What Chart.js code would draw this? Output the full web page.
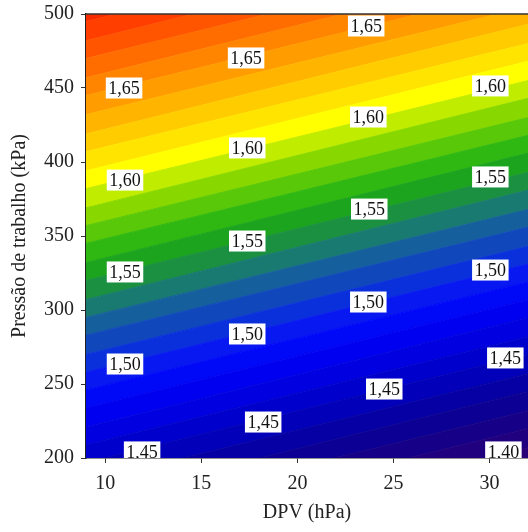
<!DOCTYPE html>
<html>
<head>
<meta charset="utf-8">
<script src="https://cdn.jsdelivr.net/npm/chart.js@4.4.1/dist/chart.umd.min.js"></script>
<style>
  html, body { margin: 0; padding: 0; background: #fff; }
  #grafico { display: block; }
</style>
</head>
<body>
<canvas id="grafico" width="528" height="532"></canvas>
<script>
// --- Datos ---
// Niveles de contorno (densidad) y presión de cada línea en DPV = 9 y DPV = 32
const niveles = [1.38, 1.39, 1.40, 1.41, 1.42, 1.43, 1.44, 1.45, 1.46, 1.47, 1.48, 1.49,
  1.50, 1.51, 1.52, 1.53, 1.54, 1.55, 1.56, 1.57, 1.58, 1.59, 1.60, 1.61, 1.62, 1.63,
  1.64, 1.65, 1.66, 1.67, 1.68, 1.69, 1.70, 1.71, 1.72];
const presionIzq = [109, 121, 134, 146, 159, 171, 184, 197, 209, 221, 234, 246,
  258, 270, 283, 295, 307, 320, 332, 345, 357, 369, 382, 394, 407, 419,
  432, 445, 457, 470, 482, 495, 507, 520, 532];
const presionDer = [182, 195, 207, 220, 232, 245, 257, 270, 282, 295, 307, 319,
  331, 343, 356, 368, 381, 393, 406, 418, 430, 443, 455, 468, 480, 493,
  505, 518, 531, 543, 556, 568, 581, 593, 606];
// color de la franja que queda debajo de cada línea
const coloresFranja = ['#36006c', '#320070', '#2a0078', '#20007e', '#160088', '#0c0094',
  '#0600a4', '#0200b8', '#0000cc', '#0000e0', '#0000f0', '#0008f8',
  '#0818f0', '#0a30dc', '#1048bc', '#15609c', '#187a70', '#1a9040',
  '#1ca41e', '#30b812', '#58c808', '#88d800', '#c0ec00', '#ffff00',
  '#ffe400', '#ffcc00', '#ffb400', '#ff9c00', '#ff8400', '#ff6c00',
  '#ff5400', '#ff3e00', '#f82a00', '#f41a00', '#f01000'];

const dpvTicks = [10, 15, 20, 25, 30];

// Etiquetas de contorno
const etiquetaDPV = [10.98, 17.33, 23.58, 11.03, 17.39, 23.69, 30.04, 11.03, 17.39, 23.74,
  30.04, 11.03, 17.39, 23.69, 30.04, 11.92, 18.22, 24.52, 30.82, 30.72];
const etiquetaP = [450.0, 470.3, 491.9, 387.8, 409.5, 430.4, 451.4, 325.7, 346.6, 368.2,
  389.9, 263.5, 283.8, 305.4, 327.0, 204.1, 224.3, 246.6, 267.6, 204.1];
const etiquetaTexto = ['1,65', '1,65', '1,65', '1,60', '1,60', '1,60', '1,60', '1,55', '1,55', '1,55',
  '1,55', '1,50', '1,50', '1,50', '1,50', '1,45', '1,45', '1,45', '1,45', '1,40'];

const FUENTE = "'Liberation Serif', 'Times New Roman', serif";

// --- Franjas de color ---
const datasets = niveles.map((nivel, i) => ({
  label: String(nivel),
  data: [{ x: 9, y: presionIzq[i] }, { x: 32, y: presionDer[i] }],
  fill: i === 0 ? 'start' : '-1',
  backgroundColor: coloresFranja[i],
  borderColor: coloresFranja[i],
  borderWidth: 1,
  pointRadius: 0,
  tension: 0
}));

// Plugin: etiquetas blancas y borde superior
const etiquetas = {
  id: 'etiquetas',
  afterDatasetsDraw(chart) {
    const { ctx, chartArea: a, scales: { x, y } } = chart;
    ctx.save();
    ctx.beginPath();
    ctx.rect(a.left, a.top, a.right - a.left, a.bottom - a.top);
    ctx.clip();
    ctx.font = "18px " + FUENTE;
    ctx.textAlign = 'center';
    ctx.textBaseline = 'middle';
    etiquetaTexto.forEach((t, i) => {
      const px = x.getPixelForValue(etiquetaDPV[i]);
      const py = y.getPixelForValue(etiquetaP[i]);
      const w = ctx.measureText(t).width + 5;
      const h = 21;
      ctx.fillStyle = '#ffffff';
      ctx.fillRect(px - w / 2, py - h / 2, w, h);
      ctx.fillStyle = '#111';
      ctx.fillText(t, px, py + 1);
    });
    ctx.restore();

    ctx.save();
    ctx.strokeStyle = '#333';
    ctx.lineWidth = 1.5;
    ctx.beginPath();
    ctx.moveTo(a.left, a.top);
    ctx.lineTo(a.right, a.top);
    ctx.stroke();
    ctx.restore();
  }
};

new Chart(document.getElementById('grafico'), {
  type: 'line',
  data: { datasets },
  options: {
    responsive: false,
    animation: false,
    devicePixelRatio: 1,
    layout: { padding: { top: 14, right: 0, left: 0, bottom: 0 } },
    plugins: {
      legend: { display: false },
      tooltip: { enabled: false }
    },
    scales: {
      x: {
        type: 'linear',
        min: 9,
        max: 32,
        afterBuildTicks: s => { s.ticks = dpvTicks.map(v => ({ value: v })); },
        afterFit: s => { s.height = 74; s.paddingLeft = 0; s.paddingRight = 0; },
        grid: { drawOnChartArea: false, drawTicks: true, tickLength: 5, color: '#333' },
        border: { color: '#222', width: 1.5 },
        ticks: { color: '#222', padding: 9, font: { family: FUENTE, size: 20 } },
        title: {
          display: true, text: 'DPV (hPa)', color: '#222',
          padding: { top: 0, bottom: 7 }, font: { family: FUENTE, size: 20 }
        }
      },
      y: {
        type: 'linear',
        min: 200,
        max: 500,
        ticks: { stepSize: 50, color: '#222', padding: 7, font: { family: FUENTE, size: 20 } },
        afterFit: s => { s.width = 86; s.paddingTop = 0; s.paddingBottom = 0; },
        grid: { drawOnChartArea: false, drawTicks: true, tickLength: 5, color: '#333' },
        border: { color: '#222', width: 1.5 },
        title: {
          display: true, text: 'Pressão de trabalho (kPa)', color: '#222',
          padding: { top: 8, bottom: 0 }, font: { family: FUENTE, size: 20 }
        }
      }
    }
  },
  plugins: [etiquetas]
});
</script>
</body>
</html>
